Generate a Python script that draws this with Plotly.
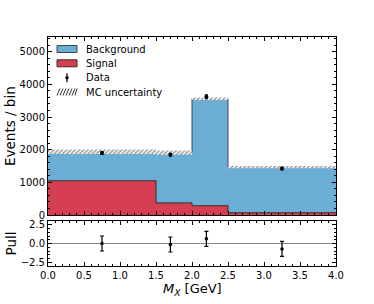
import numpy as np
import plotly.graph_objects as go

# ---- data ----
bin_edges = [0.0, 1.5, 2.0, 2.5, 4.0]
signal = [1050, 370, 285, 70]
background = [885, 1540, 3275, 1395]
mc_unc = [70, 65, 40, 35]
data_x = [0.75, 1.70, 2.20, 3.25]
data_y = [1900, 1845, 3620, 1420]
pull = [0.0, -0.13, 0.62, -0.72]
pull_err = [1.0, 1.0, 1.0, 1.0]
legend_labels = ["Background", "Signal", "Data", "MC uncertainty"]

edges = list(bin_edges)
sig = np.array(signal, float)
bkg = np.array(background, float)
unc = np.array(mc_unc, float)
total = sig + bkg


def step(v):
    v = list(v)
    return v + [v[-1]]


RED = "#d53f51"
BLUE = "#6aaed6"
FONT = "DejaVu Sans"

fig = go.Figure()
fig.add_trace(go.Scatter(x=edges, y=step(sig), mode="lines", line_shape="hv",
                         line=dict(color="#3a2a2a", width=1), fill="tozeroy", fillcolor=RED,
                         xaxis="x", yaxis="y", showlegend=False, hoverinfo="skip"))
fig.add_trace(go.Scatter(x=edges, y=step(total), mode="lines", line_shape="hv",
                         line=dict(color="#3a4a55", width=1), fill="tonexty", fillcolor=BLUE,
                         xaxis="x", yaxis="y", showlegend=False, hoverinfo="skip"))
fig.add_trace(go.Scatter(x=edges, y=step(total - unc), mode="lines", line_shape="hv",
                         line=dict(color="rgba(0,0,0,0)", width=0),
                         xaxis="x", yaxis="y", showlegend=False, hoverinfo="skip"))
fig.add_trace(go.Scatter(x=edges, y=step(total + unc), mode="lines", line_shape="hv",
                         line=dict(color="rgba(0,0,0,0)", width=0), fill="tonexty", fillcolor="white",
                         fillpattern=dict(shape="/", fgcolor="#333333", bgcolor="white", size=3, solidity=0.5),
                         xaxis="x", yaxis="y", showlegend=False, hoverinfo="skip"))
fig.add_trace(go.Scatter(x=data_x, y=data_y, mode="markers",
                         marker=dict(color="black", size=4),
                         error_y=dict(type="data", array=np.sqrt(data_y), color="black", thickness=1.2, width=1.5),
                         xaxis="x", yaxis="y", showlegend=False))
fig.add_trace(go.Scatter(x=data_x, y=pull, mode="markers",
                         marker=dict(color="black", size=3.5),
                         error_y=dict(type="data", array=pull_err, color="black", thickness=1.2, width=2),
                         xaxis="x2", yaxis="y2", showlegend=False))

# target plot area in page pixels: x 48..336, y 37..266 (page body margin removed)
W, H = 374, 304
L, T = 48, 37
R = W - 336
B = H - 266
pw, ph = W - L - R, H - T - B


def px_x(px):
    return (px - L) / pw


def px_y(py):
    return (H - B - py) / ph


main_bottom = px_y(215)
pull_top = px_y(221)

axis_common = dict(showline=True, linecolor="black", linewidth=1, mirror="ticks", ticks="inside",
                   ticklen=4, tickwidth=1, tickcolor="black", showgrid=False, zeroline=False,
                   automargin=False, tickfont=dict(family=FONT, size=10, color="black"))

fig.update_layout(
    width=W, height=H, margin=dict(l=L, r=R, t=T, b=B),
    paper_bgcolor="white", plot_bgcolor="white",
    font=dict(family=FONT, color="black"),
    xaxis=dict(range=[0, 4], domain=[0, 1], anchor="y", showticklabels=False, dtick=0.5,
               minor=dict(dtick=0.1, ticks="inside", ticklen=2, tickcolor="black"), matches="x2", **axis_common),
    yaxis=dict(range=[0, 5450], domain=[main_bottom, 1], anchor="x", dtick=1000,
               minor=dict(dtick=200, ticks="inside", ticklen=2, tickcolor="black"), **axis_common),
    xaxis2=dict(range=[0, 4], domain=[0, 1], anchor="y2", dtick=0.5, tickformat=".1f",
                minor=dict(dtick=0.1, ticks="inside", ticklen=2, tickcolor="black"), **axis_common),
    yaxis2=dict(range=[-3, 3], domain=[0, pull_top], anchor="x2", tickvals=[-2.5, 0, 2.5], tickformat=".1f",
                minor=dict(tickvals=[-3, -2, -1.5, -1, -0.5, 0.5, 1, 1.5, 2, 3], ticks="inside", ticklen=2,
                           tickcolor="black"), **axis_common),
)

fig.add_annotation(xref="paper", yref="paper", x=px_x(10), y=px_y(126), text="Events / bin", textangle=-90,
                   showarrow=False, xanchor="center", yanchor="middle", font=dict(family=FONT, size=13.5, color="black"))
fig.add_annotation(xref="paper", yref="paper", x=px_x(10), y=px_y(243.5), text="Pull", textangle=-90,
                   showarrow=False, xanchor="center", yanchor="middle", font=dict(family=FONT, size=13.5, color="black"))
fig.add_annotation(xref="paper", yref="paper", x=px_x(192), y=px_y(289), text="<i>M</i><sub><i>X</i></sub> [GeV]",
                   showarrow=False, xanchor="center", yanchor="middle", font=dict(family=FONT, size=13, color="black"))

fig.add_shape(type="line", xref="x2 domain", yref="y2", x0=0, x1=1, y0=0, y1=0,
              line=dict(color="#888888", width=1), layer="below")

# ---- manual legend ----
rows_py = [49, 63.3, 77.7, 92]
x0p, x1p = px_x(57), px_x(77)
hh = 3.5 / ph
for i, lab in enumerate(legend_labels):
    yc = px_y(rows_py[i])
    fig.add_annotation(xref="paper", yref="paper", x=px_x(84), y=yc, text=lab, showarrow=False,
                       xanchor="left", yanchor="middle", font=dict(family=FONT, size=10, color="black"))
fig.add_shape(type="rect", xref="paper", yref="paper", x0=x0p, x1=x1p, y0=px_y(rows_py[0]) - hh,
              y1=px_y(rows_py[0]) + hh, fillcolor=BLUE, line=dict(color="#3a4a55", width=1))
fig.add_shape(type="rect", xref="paper", yref="paper", x0=x0p, x1=x1p, y0=px_y(rows_py[1]) - hh,
              y1=px_y(rows_py[1]) + hh, fillcolor=RED, line=dict(color="#3a2a2a", width=1))
xc = px_x(67)
yc = px_y(rows_py[2])
fig.add_shape(type="line", xref="paper", yref="paper", x0=xc, x1=xc, y0=yc - 4.5 / ph, y1=yc + 4.5 / ph,
              line=dict(color="black", width=1.2))
fig.add_shape(type="circle", xref="paper", yref="paper", x0=xc - 1.8 / pw, x1=xc + 1.8 / pw, y0=yc - 1.8 / ph,
              y1=yc + 1.8 / ph, fillcolor="black", line=dict(color="black", width=0))
yc = px_y(rows_py[3])
for k in range(7):
    xs = 57 + k * 3
    fig.add_shape(type="line", xref="paper", yref="paper",
                  x0=px_x(xs), x1=px_x(min(xs + 3, 77)), y0=yc - hh, y1=yc + hh,
                  line=dict(color="#333333", width=1))

fig.write_html("out.html", config={"displayModeBar": False},
               post_script="document.body.style.margin='0';")
